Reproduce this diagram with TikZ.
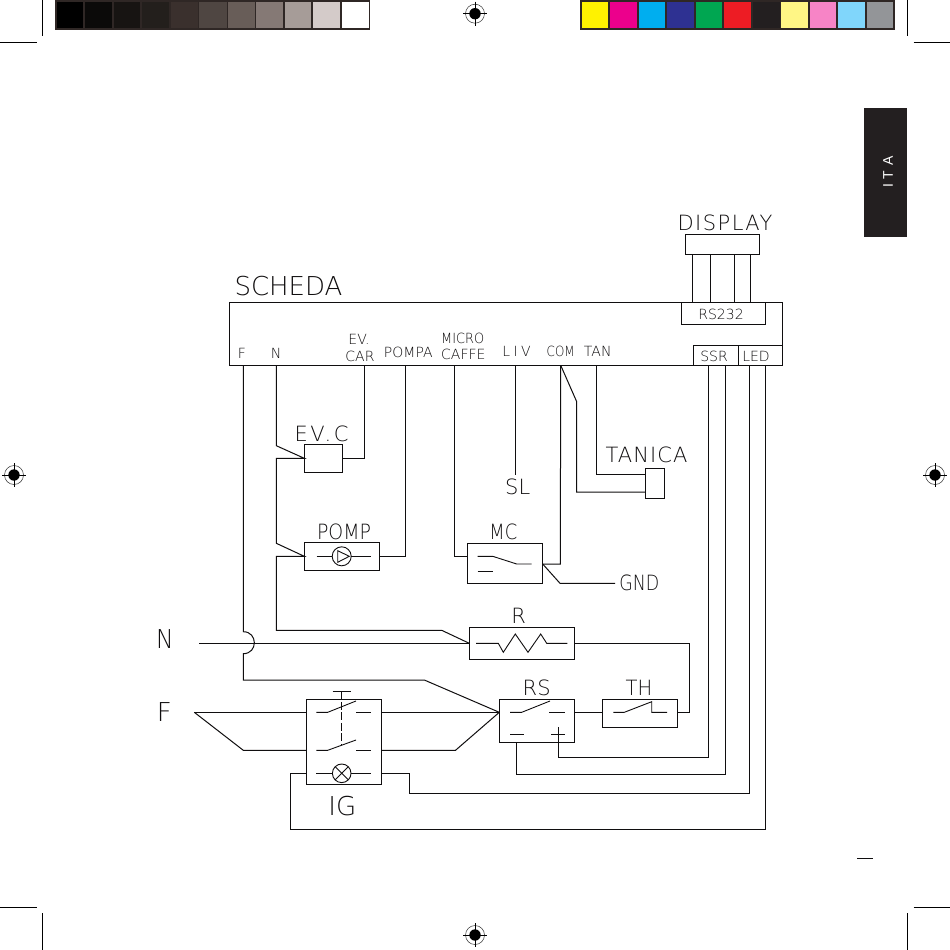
\documentclass[tikz,border=0pt]{standalone}
\usepackage{fontspec}
\newfontfamily\cadfont{DejaVu Sans}[UprightFont=* ExtraLight]
\newfontfamily\tabfont{Liberation Sans}
\newcommand{\cadsize}[1]{\fontsize{#1}{#1}\cadfont}
\newcommand{\cadnarrow}[2]{\fontsize{#1}{#1}\cadfont\addfontfeature{FakeStretch=#2}}
\newcommand{\cadspaced}[2]{\fontsize{#1}{#1}\cadfont\addfontfeature{LetterSpace=#2}}
\definecolor{barframe}{HTML}{2F2725}
\definecolor{ink}{HTML}{100E0F}
\definecolor{tabblack}{HTML}{231F20}
\tikzset{
  wire/.style={draw=ink,line width=1pt,line join=miter},
  box/.style={rectangle,draw=ink,line width=1pt,inner sep=0pt,outer sep=0pt},
  sym/.style={draw=ink,line width=0.9pt},
  lblbig/.style={text=ink,inner sep=0pt,font=\cadsize{21}},
  lblhuge/.style={text=ink,inner sep=0pt,font=\cadsize{26}},
  lblmid/.style={text=ink,inner sep=0pt,font=\cadsize{14}},
  crop/.style={draw=black,line width=0.8pt},
  regline/.style={draw=black,line width=0.7pt},
}
\begin{document}
\begin{tikzpicture}[x=1pt,y=-1pt]
\useasboundingbox (0,0) rectangle (950,950);
\fill[white] (0,0) rectangle (950,950);
% crop marks
\draw[crop] (42.5,0)--(42.5,36) (0,42.5)--(36.5,42.5);
\draw[crop] (907.7,0)--(907.7,36) (913.5,42.5)--(950,42.5);
\draw[crop] (42.5,913)--(42.5,950) (0,907.3)--(36.5,907.3);
\draw[crop] (907.7,913)--(907.7,950) (913.5,907.3)--(950,907.3);
% colour bars
\fill[barframe] (55,0) rectangle (370,30);
\fill[barframe] (580,0) rectangle (895,30);
\foreach \a/\b/\c in {56.7/83.3/000000,84.7/112.3/0B0A09,113.7/140.3/171412,141.7/169.3/231F1C,170.7/198/3A302D,199/226.7/4F4642,227.7/254.7/685D58,256/283.3/857975,284.7/311.3/A69C98,312.7/340.3/D4CBC9,341.7/368.7/FFFFFF,
  581.7/608.3/FFF200,609.7/637.3/EC008C,638.7/665.3/00AEEF,666.7/694.3/2E3192,695.7/722.3/00A651,723.7/751.3/ED1C24,752.7/779.7/231F20,781/808.3/FFF685,809.7/836.3/F784C6,837.7/865.3/80D6FB,866.7/893.3/939598}{
  \definecolor{cell}{HTML}{\c}
  \fill[cell] (\a,2) rectangle (\b,28);
}
% registration marks
\foreach \x/\y in {475/13.7,475/935,14/475,935/475}{
  \draw[draw=black!80,line width=0.5pt] (\x,\y) circle[radius=9.5];
  \fill[black] (\x,\y) circle[radius=5.7];
  \draw[white,line width=0.9pt] (\x-5.7,\y)--(\x+5.7,\y) (\x,\y-5.7)--(\x,\y+5.7);
  \draw[regline] (\x-12,\y)--(\x+12,\y) (\x,\y-12)--(\x,\y+12);
}
% language tab
\fill[tabblack] (864,108) rectangle (907,237);
\node[rotate=90,text=white,inner sep=0pt,font=\tabfont\fontsize{14}{14}\selectfont] (tab) at (888,172) {I\hspace{5pt}T\hspace{5pt}A};
\draw[line width=1pt,draw=ink] (857,858)--(873,858);

% main boxes
\node[box,minimum width=553pt,minimum height=63.3pt] (scheda) at (505.8,333.7) {};
\node[box,minimum width=84.4pt,minimum height=22pt] (rs232) at (723.5,313.3) {};
\node[box,minimum width=45pt,minimum height=20pt] (ssr) at (715.8,355.3) {};
\node[box,minimum width=44pt,minimum height=20pt] (led) at (760.3,355.3) {};
\node[box,minimum width=74pt,minimum height=20pt] (display) at (722.3,244.3) {};
\node[box,minimum width=38pt,minimum height=28pt] (evc) at (323.3,458.3) {};
\node[box,minimum width=75pt,minimum height=28pt] (pump) at (341.8,556.3) {};
\node[box,minimum width=75.4pt,minimum height=40pt] (mc) at (505,563.3) {};
\node[box,minimum width=105.4pt,minimum height=32pt] (res) at (522,643.3) {};
\node[box,minimum width=75.4pt,minimum height=43pt] (rs) at (537,720.8) {};
\node[box,minimum width=75pt,minimum height=28pt] (th) at (639.8,713.3) {};
\node[box,minimum width=75pt,minimum height=85pt] (ig) at (343.8,741.8) {};
\node[box,minimum width=18.6pt,minimum height=30pt] (tan) at (655,483.3) {};

% labels
\node[lblhuge] (tscheda) at (288.5,286) {SCHEDA};
\node[lblbig,font=\cadspaced{21}{7}] (tdisp) at (725,222.5) {DISPLAY};
\node[lblmid] (trs) at (721,314) {RS232};
\node[lblmid] (tssr) at (714,356.5) {SSR};
\node[lblmid] (tled) at (756,356.5) {LED};
\node[lblmid] (tf) at (242,353) {F};
\node[lblmid] (tn) at (276,353) {N};
\node[lblmid] (tev) at (359,339) {EV.};
\node[lblmid] (tcar) at (360,356.7) {CAR};
\node[lblmid] (tpompa) at (408.3,352.7) {POMPA};
\node[lblmid,font=\cadnarrow{14}{0.92}] (tmicro) at (462.7,338.3) {MICRO};
\node[lblmid] (tcaffe) at (463.3,354) {CAFFE};
\node[lblmid,font=\cadspaced{14}{25}] (tliv) at (516.5,351.7) {LIV};
\node[lblmid,font=\cadnarrow{14}{0.85}] (tcom) at (560.7,351.7) {COM};
\node[lblmid] (ttan) at (597.7,351.7) {TAN};
\node[lblbig,font=\cadspaced{21}{12}] (tevc) at (321.5,434.3) {EV.C};
\node[lblbig,font=\cadspaced{21}{5}] (ttanica) at (646.5,455) {TANICA};
\node[lblbig] (tsl) at (517.7,486.7) {SL};
\node[lblbig,font=\cadnarrow{21}{0.9}] (tpomp) at (344,531.7) {POMP};
\node[lblbig,font=\cadnarrow{21}{0.85}] (tmc) at (503.3,532.3) {MC};
\node[lblbig,font=\cadnarrow{21}{0.83}] (tgnd) at (639.3,582.7) {GND};
\node[lblbig] (tr) at (518.7,615.7) {R};
\node[lblbig] (trsl) at (536.7,688.3) {RS};
\node[lblbig,font=\cadnarrow{21}{0.93}] (tth) at (639,688.3) {TH};
\node[lblhuge,font=\cadnarrow{26}{0.9}] (tnn) at (165,639.5) {N};
\node[lblhuge] (tff) at (164.3,711.7) {F};
\node[lblhuge] (tig) at (342.3,806) {IG};

% pins on the board
\coordinate (pf) at (243.3,365.3);
\coordinate (pn) at (276.3,365.3);
\coordinate (pcar) at (364.3,365.3);
\coordinate (ppompa) at (405.7,365.3);
\coordinate (pmicro) at (454.3,365.3);
\coordinate (pliv) at (515.3,365.3);
\coordinate (pcom) at (560.7,365.3);
\coordinate (ptan) at (596.7,365.3);
\coordinate (pssra) at (708.3,365.3);
\coordinate (pssrb) at (725.3,365.3);
\coordinate (pleda) at (749.3,365.3);
\coordinate (pledb) at (765.3,365.3);
\coordinate (slend) at (515.3,475);
\coordinate (mains) at (199,643.3);
\coordinate (fa) at (194.3,712.3);
\coordinate (gndend) at (615,583.3);
\coordinate (mcr) at (542.7,564);
\coordinate (mcl) at (467.3,556.3);
\coordinate (rsminus) at (516.3,742.3);
\coordinate (rsplus) at (558.3,742.3);
\coordinate (igla) at (306.3,773.3);
\coordinate (iglb) at (381.3,773.3);
\coordinate (igua) at (306.3,712.3);
\coordinate (igub) at (381.3,712.3);
\coordinate (igda) at (306.3,750.3);
\coordinate (igdb) at (381.3,750.3);
\coordinate (thr) at (677.3,712.3);
\coordinate (tana) at (645.7,474.3);
\coordinate (tanb) at (645.7,492);

% display ribbon
\foreach \x in {692.7,710.3,734.3,750.3}{
  \draw[wire] (\x,254.3)--(\x,302.2);
}
% connectors
\draw[wire] (pn)--(276.3,445.7)--(evc.west)--(276.3,458.3)--(276.3,543.3)--(pump.west)--(276.3,556.3)--(276.3,630.3)--(441.7,630.3)--(res.west);
\draw[wire] (pcar)|-(evc.east);
\draw[wire] (ppompa)|-(pump.east);
\draw[wire] (pmicro)|-(mcl);
\draw[wire] (pcom)--(560.3,564)--(mcr);
\draw[wire] (mcr)--(560,583.3)--(gndend);
\draw[wire] (pliv)--(slend);
\draw[wire] (pcom)--(576.7,401.7)--(576.7,492)--(tanb);
\draw[wire] (ptan)|-(tana);
\draw[wire] (mains)--(res.west);
\draw[wire] (pf)--(243.3,631.7) .. controls (258,631.7) and (258,653.7) .. (243.3,653.7)--(243.3,680)--(424.3,680)--(rs.west |- thr);
\draw[wire] (fa)--(igua);
\draw[wire] (fa)--(243.3,750.3)--(igda);
\draw[wire] (igub)--(rs.west |- thr);
\draw[wire] (igdb)--(455.5,750.3)--(rs.west |- thr);
\draw[wire] (rs.east |- thr)--(th.west |- thr);
\draw[wire] (res.east)--(689.3,643.3)--(689.3,712.3)--(thr);
\draw[wire] (rsplus)--(558.3,757.3)--(708.3,757.3)--(pssra);
\draw[wire] (rsminus)--(516.3,774.3)--(725.3,774.3)--(pssrb);
\draw[wire] (iglb)--(409.3,773.3)--(409.3,793.3)--(749.3,793.3)--(pleda);
\draw[wire] (igla)--(290.3,773.3)--(290.3,829.3)--(765.3,829.3)--(pledb);

% pump symbol
\draw[sym] (316.7,556.3)--(332.2,556.3) (351.2,556.3)--(370.7,556.3);
\draw[sym] (341.7,556.3) circle[radius=9.5];
\draw[sym] (337.7,550.7)--(337.7,562.3)--(349.3,556.3)--cycle;
% MC symbol
\draw[sym] (477.7,556.3)--(492.7,556.3)--(516.7,564)--(531.7,564);
\draw[sym] (477.7,571.3)--(492.7,571.3);
% resistor symbol
\draw[sym] (476,643.3)--(498.3,643.3)--(503.3,652.3)--(515.3,634)--(528,652.3)--(540.7,634)--(546.7,643.3)--(567.3,643.3);
% TH symbol
\draw[sym] (613.3,712.3)--(624.3,712.3)--(651.7,701.7)--(651.7,712.3)--(667,712.3);
% RS symbol
\draw[sym] (510,712.3)--(521.7,712.3)--(550,701);
\draw[sym] (549.3,712.3)--(564.7,712.3);
\draw[sym] (510.3,734)--(524,734);
\draw[sym] (551,734)--(564.7,734);
\draw[sym] (558.3,727.3)--(558.3,742.3);
% IG symbol
\draw[sym] (316.3,712.3)--(327.7,712.3)--(356,701);
\draw[sym] (356,712.3)--(370.7,712.3);
\draw[sym] (316.3,750.3)--(327.7,750.3)--(356,740);
\draw[sym] (356,750.3)--(370.7,750.3);
\draw[sym,dash pattern=on 8pt off 2.5pt] (341.7,691.3)--(341.7,745);
\draw[sym] (332.7,691.3)--(350.7,691.3);
\draw[sym] (316.3,773.3)--(332.4,773.3) (351,773.3)--(370.7,773.3);
\draw[sym] (341.7,773.3) circle[radius=9.3];
\draw[sym] (335.1,766.7)--(348.3,779.9) (335.1,779.9)--(348.3,766.7);
\end{tikzpicture}
\end{document}
